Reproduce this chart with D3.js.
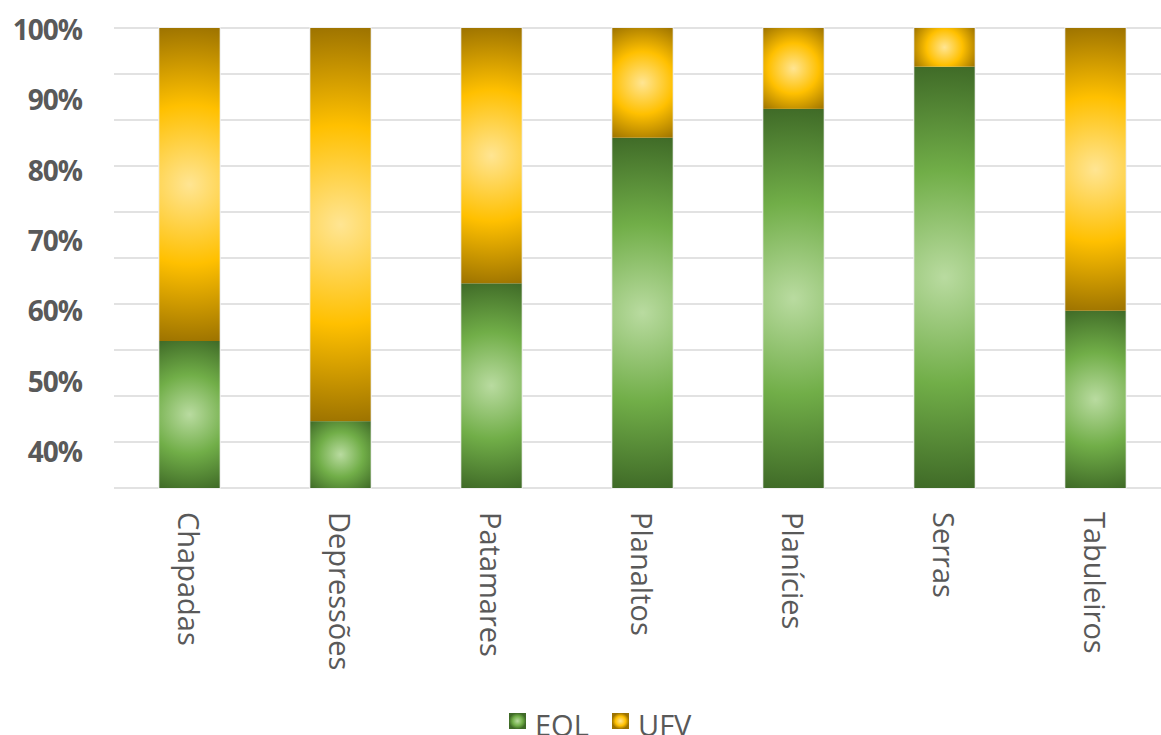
<!doctype html>
<html>
<head>
<meta charset="utf-8">
<title>EOL x UFV</title>
<style>
  body { margin: 0; background: #fff; }
  svg { display: block; font-family: "Open Sans", "Noto Sans", sans-serif; }
</style>
<script src="https://d3js.org/d3.v7.min.js"></script>
</head>
<body>
<svg width="1161" height="735"></svg>
<script>
// chart data
var categories = ["Chapadas", "Depressões", "Patamares", "Planaltos", "Planícies", "Serras", "Tabuleiros"];
var eol = [55.5, 44.1, 63.7, 84.4, 88.5, 94.5, 59.8];
var ufv = [44.5, 55.9, 36.3, 15.6, 11.5, 5.5, 40.2];
var tickValues = [100, 90, 80, 70, 60, 50, 40];
var tickLabels = ["100%", "90%", "80%", "70%", "60%", "50%", "40%"];
var seriesNames = ["EOL", "UFV"];

var svg = d3.select("svg"),
    plotTop = 28, plotBottom = 488, plotLeft = 114, plotRight = 1171,
    yMin = 34.6;

var x = d3.scaleBand().domain(categories).range([plotLeft, plotRight]).paddingInner(0.6).paddingOuter(0.3);
var y = d3.scaleLinear().domain([yMin, 100]).range([plotBottom, plotTop]);
var grid = d3.scaleLinear().domain([0, 10]).range([plotBottom, plotTop]);

// gradients
var defs = svg.append("defs");
var palettes = {
  EOL: ["#b9dba0", "#71ae48", "#3f6a27"],
  UFV: ["#ffe593", "#ffc000", "#9d7300"]
};

// gridlines
svg.append("g").selectAll("line")
  .data(d3.range(0, 11))
  .enter().append("line")
  .attr("x1", plotLeft).attr("x2", 1161)
  .attr("y1", function(d) { return grid(d); })
  .attr("y2", function(d) { return grid(d); })
  .attr("stroke", "#d9d9d9")
  .attr("stroke-width", 1.5);

// thin light outline around each whole bar (hides gridlines next to it)
svg.append("g").selectAll("rect")
  .data(categories)
  .enter().append("rect")
  .attr("x", function(d) { return x(d); })
  .attr("y", y(100))
  .attr("width", x.bandwidth())
  .attr("height", y(yMin) - y(100))
  .attr("fill", "none")
  .attr("stroke", "#f0f0f0")
  .attr("stroke-width", 2);

// stacked segments
var rows = categories.map(function(c, i) { return { cat: c, EOL: eol[i], UFV: ufv[i] }; });
var stack = d3.stack().keys(seriesNames)(rows);

stack.forEach(function(layer) {
  layer.forEach(function(d, i) {
    var x0 = x(d.data.cat), w = x.bandwidth();
    var y0 = y(Math.min(d[1], 100)), y1 = y(Math.max(d[0], yMin));
    var h = y1 - y0;
    var id = "g_" + layer.key + "_" + i;
    var cols = palettes[layer.key];
    var rg = defs.append("radialGradient")
      .attr("id", id)
      .attr("gradientUnits", "userSpaceOnUse")
      .attr("cx", x0 + w / 2).attr("cy", y0 + h / 2)
      .attr("r", Math.sqrt(w * w / 4 + h * h / 4));
    rg.append("stop").attr("offset", "0").attr("stop-color", cols[0]);
    rg.append("stop").attr("offset", "0.5").attr("stop-color", cols[1]);
    rg.append("stop").attr("offset", "1").attr("stop-color", cols[2]);
    svg.append("rect")
      .attr("x", x0).attr("y", y0)
      .attr("width", w).attr("height", h)
      .attr("fill", "url(#" + id + ")");
  });
});

// y labels
svg.append("g").selectAll("text")
  .data(tickValues)
  .enter().append("text")
  .attr("x", 82)
  .attr("y", function(d) { return y(d) + 1; })
  .attr("text-anchor", "end")
  .attr("dominant-baseline", "central")
  .attr("font-size", 28)
  .attr("font-weight", "bold")
  .attr("letter-spacing", -1)
  .attr("fill", "#595959")
  .text(function(d, i) { return tickLabels[i]; });

// x labels
svg.append("g").selectAll("text")
  .data(categories)
  .enter().append("text")
  .attr("transform", function(d) { return "translate(" + (x(d) + x.bandwidth() / 2) + ",512) rotate(90)"; })
  .attr("dy", "0.41em")
  .attr("font-size", 29)
  .attr("fill", "#595959")
  .text(function(d) { return d; });

// legend
var legend = svg.append("g").attr("transform", "translate(509,713)");
var lx = [0, 103];
seriesNames.forEach(function(s, i) {
  var lg = defs.append("radialGradient").attr("id", "leg_" + s);
  lg.append("stop").attr("offset", "0").attr("stop-color", palettes[s][0]);
  lg.append("stop").attr("offset", "0.6").attr("stop-color", palettes[s][1]);
  lg.append("stop").attr("offset", "1").attr("stop-color", palettes[s][2]);
  legend.append("rect")
    .attr("x", lx[i]).attr("y", 0)
    .attr("width", 17).attr("height", 16)
    .attr("fill", "url(#leg_" + s + ")");
  legend.append("text")
    .attr("x", lx[i] + 26).attr("y", 23)
    .attr("font-size", 29)
    .attr("fill", "#595959")
    .text(s);
});
</script>
</body>
</html>
